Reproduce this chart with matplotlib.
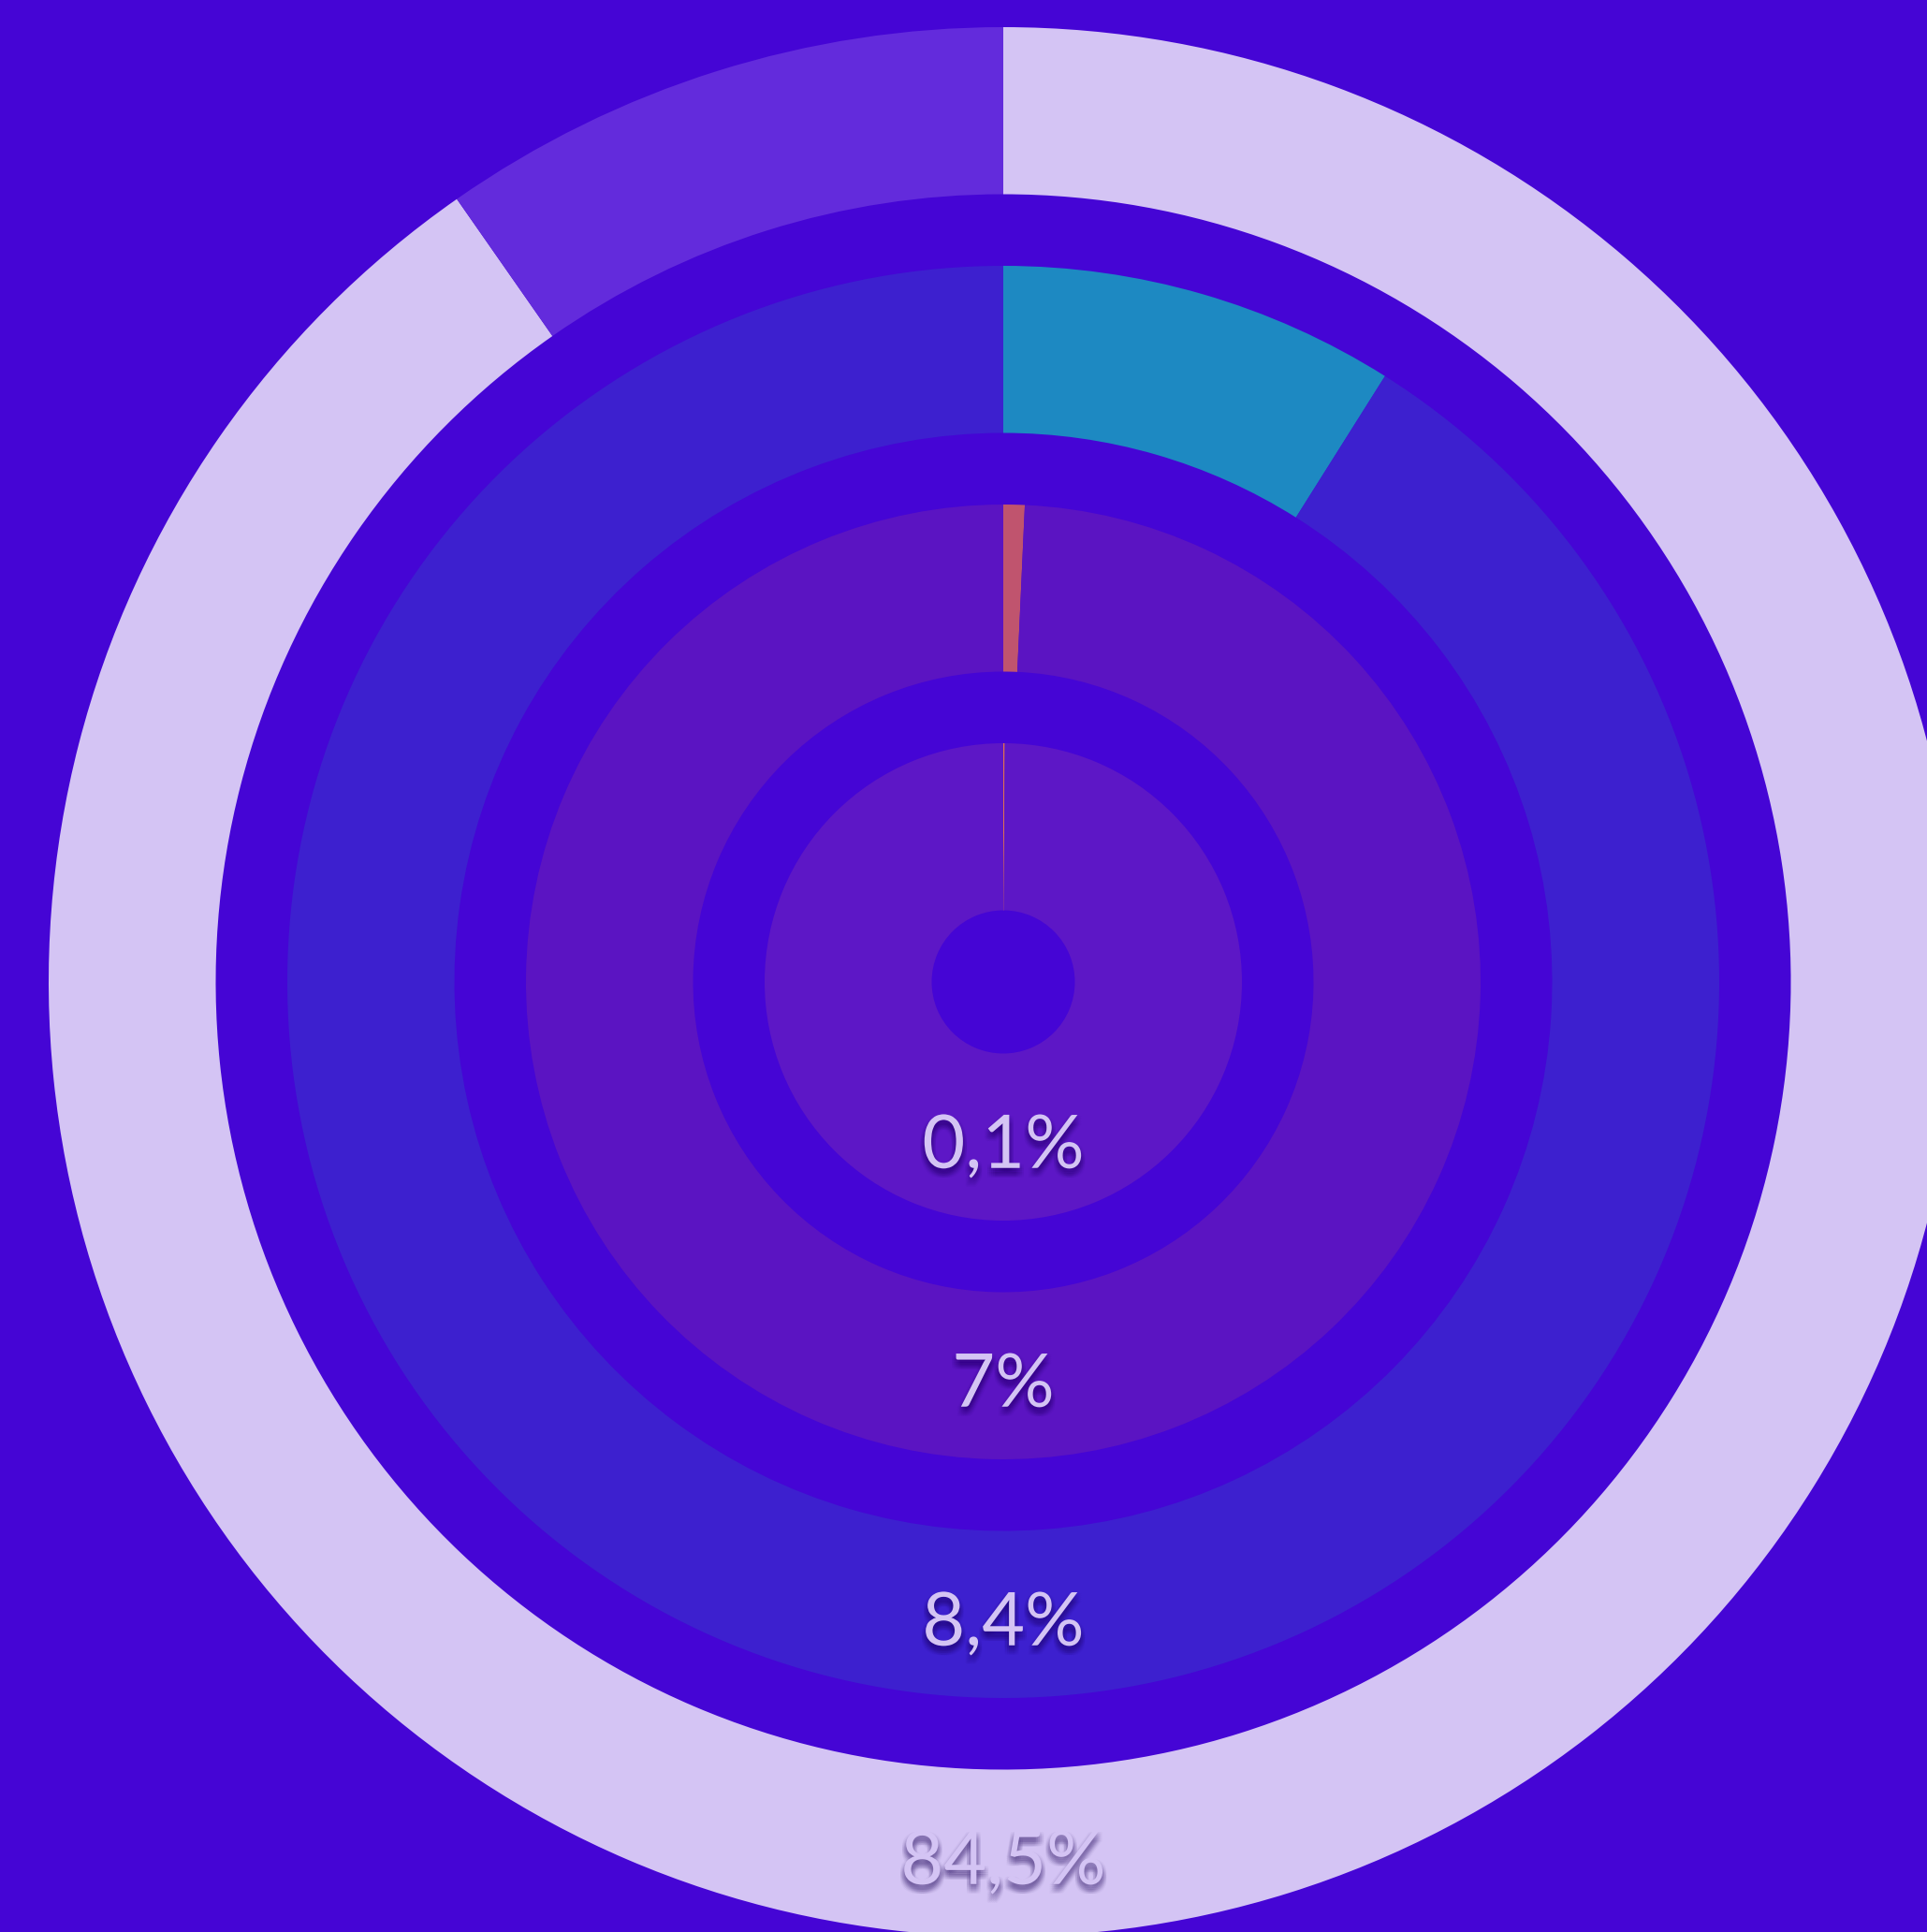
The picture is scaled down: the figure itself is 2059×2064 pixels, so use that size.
import matplotlib.pyplot as plt
import matplotlib.patheffects as pe

# Data (outermost ring first)
labels = ['84,5%', '8,4%', '7%', '0,1%']
# share of each ring taken by the highlighted arc
arc_share = [0.903, 0.0895, 0.0072, 0.001]
hi_colors = ['#D4C4F4', '#1D89C2', '#C0546E', '#E07050']
rest_colors = ['#632BDC', '#3D20CF', '#5B14C2', '#5D17C6']

bg = '#4505D5'
W, H = 2059, 2064
cx, cy = 1072, H - 1049
ring_w = 178.5
gap = 76.5
outer_r = 1020

fig = plt.figure(figsize=(W / 100, H / 100), dpi=100, facecolor=bg)
ax = fig.add_axes([0, 0, 1, 1])
ax.set_facecolor(bg)

# soft drop shadow built from many faint offset copies
shadow = []
for dx in (-3, -1.5, 0, 1.5, 3):
    for dy in (-7, -5.5, -4, -2.5, -1):
        shadow.append(pe.SimplePatchShadow(offset=(dx, dy), shadow_rgbFace='#1a0058',
                                           alpha=0.035))
shadow.append(pe.Normal())

for i, (lab, share) in enumerate(zip(labels, arc_share)):
    r = outer_r - i * (ring_w + gap)
    ax.pie([share, 1 - share], radius=r, center=(cx, cy), startangle=90,
           counterclock=False, colors=[hi_colors[i], rest_colors[i]],
           wedgeprops=dict(width=ring_w, linewidth=0))
    ax.text(cx, cy - (r - ring_w / 2) - 11, lab, ha='center', va='center',
            fontsize=57, family=['Lato', 'DejaVu Sans'], color='#D4C4F4',
            path_effects=shadow)

ax.set_xlim(0, W)
ax.set_ylim(0, H)
ax.set_aspect('equal')
ax.axis('off')

fig.savefig('out.png', dpi=100, facecolor=bg)
